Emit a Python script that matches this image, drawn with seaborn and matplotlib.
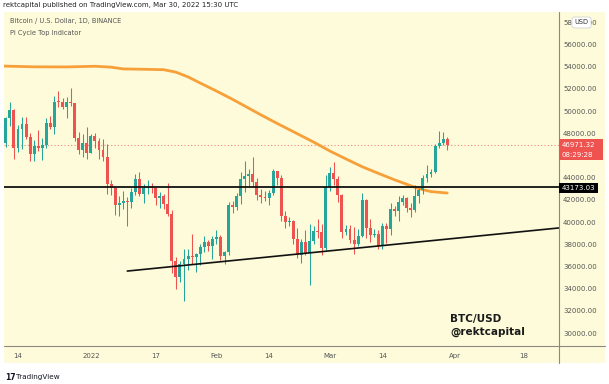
import matplotlib
matplotlib.use("Agg")
import matplotlib.pyplot as plt
import matplotlib.dates as mdates
from matplotlib.patches import Rectangle, FancyBboxPatch
from matplotlib.lines import Line2D
import pandas as pd
import seaborn as sns

# daily candles BTC/USD (Binance), 11 Dec 2021 -> 30 Mar 2022
first_open = 47140
closes = [49390, 50053, 46702, 48343, 48864, 47632, 46131, 46834, 46681, 46914, 48889, 48588, 50838, 50821, 50400, 50775, 50701, 47543, 46464, 47120, 46216,
          47722, 47286, 46446, 45832, 43451, 43082, 41566, 41679, 41864, 41822, 42729, 43902, 42560, 43059, 43084, 43071, 42201, 42352, 41660, 40680, 36445, 35071, 36244, 36660, 36958, 36810, 37160, 37716, 38166, 37881, 38466,
          38690, 36896, 37311, 41574, 41382, 42380, 43840, 44118, 44338, 43565, 42407, 42244, 42197, 42586, 44575, 43961, 40538, 40030, 40122, 38431, 37017, 38237, 37250, 38328, 39219, 39116, 37699, 43160,
          44421, 43892, 42454, 39137, 39400, 38419, 38062, 38737, 41982, 39437, 38795, 38904, 37849, 39666, 39338, 41143, 40951, 41801, 42191, 41247, 41077, 42358, 42892, 43960, 44348, 44500, 46820, 47128, 47465, 46971.32]
highs = [49485, 50800, 50205, 48700, 49500, 49436, 47995, 47392, 48300, 47537, 49328, 49576, 51375, 51810, 51156, 51280, 52088, 50704, 48139, 47900, 48548,
         47954, 47990, 47570, 47505, 47070, 43816, 43145, 42300, 42786, 42248, 43100, 44322, 44500, 43448, 43800, 43475, 43176, 42691, 42559, 43505, 41100, 36835, 36499, 37550, 37545, 38919, 37234, 38000, 38720, 38359, 38744,
         39265, 38835, 37387, 41772, 41913, 42656, 44500, 45492, 44799, 45821, 43920, 43000, 42760, 42876, 44775, 44582, 44200, 40959, 40444, 40150, 39500, 38450, 39250, 39843, 39683, 40300, 39855, 44225,
         44950, 45400, 44101, 42527, 39710, 39693, 39547, 39362, 42594, 42039, 40236, 39363, 39308, 39947, 39887, 41723, 41478, 42326, 42400, 42296, 41700, 43361, 43025, 44220, 45094, 44755, 46999, 48189, 48096, 47700]
lows = [46751, 48638, 45672, 46290, 46547, 47511, 45456, 45500, 46406, 45558, 46630, 48421, 47920, 50384, 50171, 49412, 50449, 47313, 46096, 45900, 45678,
        46208, 46654, 45696, 45502, 42500, 42430, 40610, 40501, 41200, 39650, 41268, 42450, 42311, 41725, 42555, 42581, 41540, 41250, 41138, 40553, 35440, 34008, 34601, 32917, 35701, 36234, 35507, 36155, 37268, 37351, 36632,
        38000, 36586, 36250, 37026, 40843, 41116, 41645, 42666, 43117, 43188, 42000, 41748, 41870, 41570, 42428, 43310, 40073, 39450, 39639, 38000, 36800, 36351, 37037, 34322, 38014, 38600, 37000, 37450,
        42809, 43334, 41832, 38550, 38792, 38088, 37155, 37867, 38656, 38539, 38223, 38660, 37578, 37555, 38098, 38848, 40500, 40135, 41516, 40911, 40468, 40875, 41751, 42566, 43578, 44071, 44421, 46663, 46950, 46445]

# Pi Cycle Top indicator (orange)
pi_dates = ["2021-12-10", "2021-12-18", "2021-12-26", "2022-01-02", "2022-01-06", "2022-01-09", "2022-01-14", "2022-01-19",
            "2022-01-22", "2022-01-25", "2022-01-28", "2022-02-01", "2022-02-05", "2022-02-08", "2022-02-12", "2022-02-16",
            "2022-02-21", "2022-02-25", "2022-03-01", "2022-03-05", "2022-03-09", "2022-03-13", "2022-03-17", "2022-03-20",
            "2022-03-23", "2022-03-26", "2022-03-30"]
pi_values = [54050, 53980, 53970, 54030, 53950, 53790, 53760, 53720, 53500, 53070, 52520, 51800, 51050, 50450, 49650, 48880,
             47950, 47200, 46400, 45680, 44980, 44380, 43800, 43400, 43000, 42740, 42610]

# drawn lines
resistance = 43173.03
trend_dates = ["2022-01-10", "2022-04-27"]
trend_values = [35580, 39480]

tick_dates = ["2021-12-14", "2022-01-01", "2022-01-17", "2022-02-01", "2022-02-14", "2022-03-01", "2022-03-14", "2022-04-01", "2022-04-18"]
tick_labels = ["14", "2022", "17", "Feb", "14", "Mar", "14", "Apr", "18"]
# 46000 sits under the live price tag, so it is not shown
price_ticks = [p for p in range(30000, 58001, 2000) if p != 46000]

dates = pd.date_range("2021-12-11", periods=len(closes), freq="D")
df = pd.DataFrame({"date": dates, "close": closes, "high": highs, "low": lows})
df["open"] = [first_open] + closes[:-1]

sns.set_theme(style="white")
plt.rcParams["font.family"] = ["DejaVu Sans"]

W, H = 609, 384
bg = "#fdfbda"
up, down = "#26a69a", "#ef5350"

fig = plt.figure(figsize=(W / 100, H / 100), dpi=100)
fig.patch.set_facecolor("white")
ax = fig.add_axes([4 / W, 1 - 346 / H, 555 / W, 334 / H])
ax.set_facecolor(bg)
fig.patches.append(Rectangle((4 / W, 1 - 363 / H), 601 / W, 351 / H, transform=fig.transFigure,
                             facecolor=bg, edgecolor="none", zorder=-5))

# candles
cols = [up if c >= o else down for o, c in zip(df["open"], df["close"])]
x = mdates.date2num(df["date"])
ax.vlines(x, df["low"], df["high"], colors=cols, lw=0.75, zorder=3)
body = (df["close"] - df["open"]).abs().clip(lower=70)
bottom = df[["open", "close"]].min(axis=1)
ax.bar(x, body, bottom=bottom, width=0.72, color=cols, linewidth=0, zorder=4)

# indicator + drawings
pi = pd.DataFrame({"date": pd.to_datetime(pi_dates), "v": pi_values})
sns.lineplot(data=pi, x="date", y="v", ax=ax, color="#f7a03a", lw=2.0, zorder=2)
tr = pd.DataFrame({"date": pd.to_datetime(trend_dates), "v": trend_values})
sns.lineplot(data=tr, x="date", y="v", ax=ax, color="#111111", lw=1.2, zorder=5)
ax.axhline(resistance, color="#111111", lw=1.3, zorder=5)
ax.axhline(closes[-1], color="#f08a85", lw=0.8, ls=(0, (1, 2)), zorder=1)

d0 = mdates.date2num(pd.Timestamp("2021-12-14"))
ax.set_xlim(d0 - 3.45, d0 + 133.6)
ax.set_ylim(28829, 58919)
ax.set_xlabel("")
ax.set_ylabel("")

ax.set_xticks(mdates.date2num(pd.to_datetime(tick_dates)))
ax.set_xticklabels(tick_labels)
ax.yaxis.tick_right()
ax.set_yticks(price_ticks)
ax.set_yticklabels([f"{p:.2f}" for p in price_ticks])
ax.tick_params(axis="both", length=0, labelsize=5, colors="#555555")
ax.tick_params(axis="x", pad=5)
ax.tick_params(axis="y", pad=3)
for s in ax.spines.values():
    s.set_visible(False)

# axis separators
fig.add_artist(Line2D([4 / W, 605 / W], [1 - 346 / H] * 2, color="#8a8a80", lw=0.8))
fig.add_artist(Line2D([559 / W] * 2, [1 - 12 / H, 1 - 363 / H], color="#8a8a80", lw=0.8))

# price labels
fig.patches.append(Rectangle((559 / W, 1 - 160 / H), 44 / W, 21 / H, transform=fig.transFigure,
                             facecolor="#ef5350", edgecolor="none", zorder=5))
fig.text(562 / W, 1 - 145 / H, "46971.32", color="white", fontsize=5, va="center", zorder=6)
fig.text(562 / W, 1 - 155 / H, "08:29:28", color="white", fontsize=5, va="center", zorder=6)
fig.patches.append(Rectangle((559 / W, 1 - 193 / H), 39 / W, 10 / H, transform=fig.transFigure,
                             facecolor="black", edgecolor="none", zorder=5))
fig.text(562 / W, 1 - 188 / H, "43173.03", color="white", fontsize=5, va="center", zorder=6)
fig.patches.append(FancyBboxPatch((572 / W, 1 - 28 / H), 19 / W, 11 / H, boxstyle="round,pad=0,rounding_size=0.005",
                                  transform=fig.transFigure, facecolor="white", edgecolor="#cccccc", lw=0.5, zorder=5))
fig.text(581.5 / W, 1 - 22.5 / H, "USD", color="#333333", fontsize=4.8, ha="center", va="center", zorder=6)

# texts
fig.text(3 / W, 1 - 5 / H, "rektcapital published on TradingView.com, Mar 30, 2022 15:30 UTC",
         fontsize=5.0, color="#222222", va="center")
fig.text(10 / W, 1 - 21 / H, "Bitcoin / U.S. Dollar, 1D, BINANCE", fontsize=4.8, color="#555555", va="center")
fig.text(10 / W, 1 - 33 / H, "Pi Cycle Top Indicator", fontsize=4.8, color="#555555", va="center")
fig.text(450 / W, 1 - 319 / H, "BTC/USD", fontsize=7.5, fontweight="bold", color="#1a1a1a", va="center")
fig.text(450 / W, 1 - 332 / H, "@rektcapital", fontsize=7.5, fontweight="bold", color="#1a1a1a", va="center")
fig.text(5 / W, 1 - 377 / H, "17", fontsize=5.5, fontweight="heavy", color="#131722", va="center")
fig.text(16 / W, 1 - 377 / H, "TradingView", fontsize=5.2, color="#131722", va="center")

fig.savefig("out.png", dpi=100)
